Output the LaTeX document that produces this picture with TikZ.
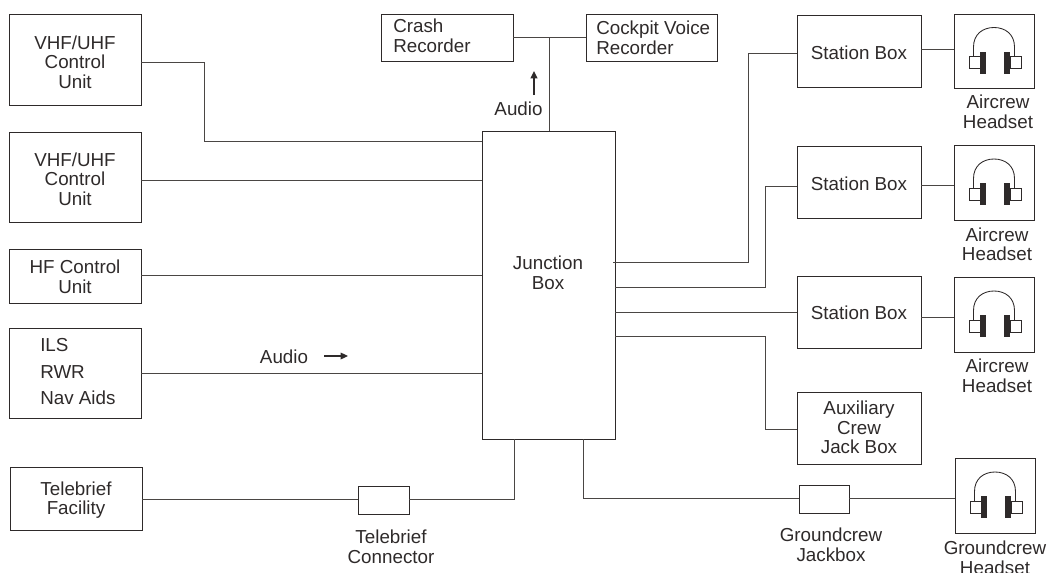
\documentclass[tikz,border=0pt]{standalone}
\usepackage{fontspec}
\usetikzlibrary{arrows.meta}
\setmainfont{Liberation Sans}
\definecolor{ink}{HTML}{2E2A2A}
\definecolor{wirec}{HTML}{4A4644}
\tikzset{
  box/.style={draw=ink,line width=0.7pt,inner sep=0pt},
  lbl/.style={inner sep=0pt,align=center,font=\fontsize{14.1}{14.6}\selectfont,text=ink},
  lbll/.style={lbl,align=left,anchor=west},
  wire/.style={draw=wirec,line width=0.75pt},
  tip/.style={draw=ink,-{Triangle[length=5.5pt,width=5pt]}},
}
\newcommand{\bx}[5]{\node[box,minimum width=#3*0.75pt-#1*0.75pt,minimum height=#4*0.75pt-#2*0.75pt] (#5) at ({(#1+#3)/2},{(#2+#4)/2}) {};}
\newcommand{\phones}[1]{
  \begin{scope}[shift={(#1)}]
    \draw[ink,line width=0.65pt] (-20.5,6) -- (-20.5,-4) .. controls (-20.5,-17) and (-11,-23.5) .. (0,-23.5) .. controls (11,-23.5) and (20.5,-17) .. (20.5,-4) -- (20.5,6);
    \draw[ink,line width=0.65pt,fill=white] (-25,5.5) rectangle (-14,17.5);
    \draw[ink,line width=0.65pt,fill=white] (16,5.5) rectangle (27,17.5);
    \fill[ink] (-14,0.5) rectangle (-8,22.5);
    \fill[ink] (10,0.5) rectangle (16,22.5);
  \end{scope}}
\begin{document}
\begin{tikzpicture}[x=0.75pt,y=-0.75pt]
\useasboundingbox (0,0) rectangle (1047,572);
\bx{9}{14}{141}{105}{vhfa}
\bx{9}{132}{141}{222}{vhfb}
\bx{9}{249}{141}{303}{hf}
\bx{9}{328}{141}{418}{ils}
\bx{10}{467}{142}{530}{tele}
\bx{482}{131}{615}{439}{jb}
\bx{381}{14}{513}{61}{crash}
\bx{586}{14}{717}{61}{cvr}
\bx{797}{15}{921}{87}{sa}
\bx{797}{146}{921}{218}{sb}
\bx{797}{276}{921}{348}{sc}
\bx{797}{392}{921}{464}{aux}
\bx{954}{14}{1034}{88}{ha}
\bx{954}{145}{1034}{220}{hb}
\bx{954}{277}{1034}{352}{hc}
\bx{955}{458}{1035}{533}{hg}
\bx{358}{486}{409}{514}{tc}
\bx{799}{485}{849}{513}{gj}
\phones{ha.center}\phones{hb.center}\phones{hc.center}\phones{hg.center}
% box texts
\node[lbl] (vhfat) at (75,62) {VHF/UHF\\Control\\Unit};
\node[lbl] (vhfbt) at (75,179) {VHF/UHF\\Control\\Unit};
\node[lbl] (hft) at (75,277) {HF Control\\Unit};
\node[lbl] (telet) at (76,500) {Telebrief\\Facility};
\node[lbl] (jbt) at (548,273) {Junction\\Box};
\node[lbl] (sat) at (859,53) {Station Box};
\node[lbl] (sbt) at (859,184) {Station Box};
\node[lbl] (sct) at (859,313) {Station Box};
\node[lbl] (auxt) at (859,427.5) {Auxiliary\\Crew\\Jack Box};
\node[lbll] (ilst) at (40,345) {ILS};
\node[lbll] (rwrt) at (40,372) {RWR};
\node[lbll] (navt) at (40,398) {Nav Aids};
\node[lbll] (crasht) at (393,36) {Crash\\Recorder};
\node[lbll] (cvrt) at (596,38) {Cockpit Voice\\Recorder};
% labels
\node[lbl] (la) at (998,112) {Aircrew\\Headset};
\node[lbl] (lb) at (997,244.5) {Aircrew\\Headset};
\node[lbl] (lc) at (997,376) {Aircrew\\Headset};
\node[lbl] (lg) at (995,558) {Groundcrew\\Headset};
\node[lbl] (ltc) at (391,547) {Telebrief\\Connector};
\node[lbl] (lgj) at (831,545) {Groundcrew\\Jackbox};
\node[lbl] (au1) at (518.5,109) {Audio};
\node[lbl] (au2) at (284,357) {Audio};
% small arrows
\coordinate (a1s) at (534,95); \coordinate (a1e) at (534,71);
\coordinate (a2s) at (324,356); \coordinate (a2e) at (348,356);
\draw[tip,line width=1.5pt] (a1s) -- (a1e);
\draw[tip,line width=0.9pt] (a2s) -- (a2e);
% connectors
\draw[wire] (vhfa.east |- 0,62) -- (204,62) -- (204,141) -- (jb.west |- 0,141);
\draw[wire] (vhfb.east |- 0,180) -- (jb.west |- 0,180);
\draw[wire] (hf.east |- 0,275) -- (jb.west |- 0,275);
\draw[wire] (ils.east |- 0,373) -- (jb.west |- 0,373);
\draw[wire] (crash.east |- 0,37) -- (cvr.west |- 0,37);
\draw[wire] (549,37) -- (jb.north -| 549,0);
\draw[wire] (tele.east |- 0,499) -- (tc.west |- 0,499);
\draw[wire] (tc.east |- 0,499) -- (514,499) -- (514,439);
\draw[wire] (583,439) -- (583,498) -- (gj.west |- 0,498);
\draw[wire] (gj.east |- 0,498) -- (hg.west |- 0,498);
\draw[wire] (613,262) -- (748,262) -- (748,53) -- (sa.west |- 0,53);
\draw[wire] (jb.east |- 0,287) -- (765,287) -- (765,186) -- (sb.west |- 0,186);
\draw[wire] (jb.east |- 0,312) -- (sc.west |- 0,312);
\draw[wire] (jb.east |- 0,336) -- (765,336) -- (765,429) -- (aux.west |- 0,429);
\draw[wire] (sa.east |- 0,49) -- (ha.west |- 0,49);
\draw[wire] (sb.east |- 0,185) -- (hb.west |- 0,185);
\draw[wire] (sc.east |- 0,317) -- (hc.west |- 0,317);
\end{tikzpicture}
\end{document}
